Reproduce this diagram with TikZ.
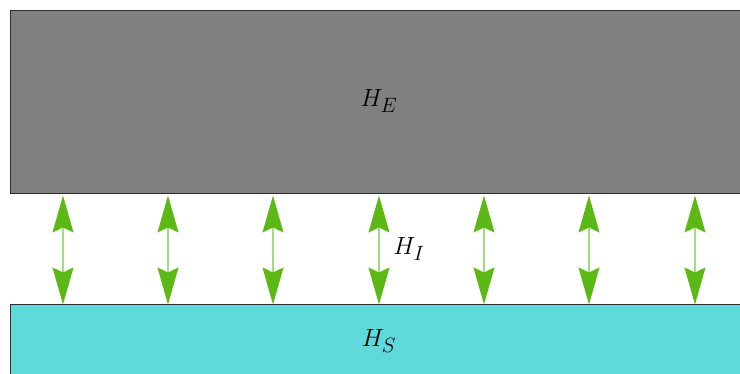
\documentclass[tikz,border=0pt]{standalone}
\usetikzlibrary{arrows.meta}
\definecolor{envgray}{HTML}{808080}
\definecolor{syscyan}{HTML}{5FD9D9}
\definecolor{headgreen}{HTML}{5CB814}
\definecolor{shaftgreen}{HTML}{A2DC7E}
\definecolor{edgegray}{HTML}{2E2E2E}
\tikzset{
  lbl/.style={font=\fontsize{29}{33}\selectfont, inner sep=0pt},
  couple/.style={shaftgreen, line width=1.3pt,
    {Stealth[length=37pt,width=21pt,inset=5pt,color=headgreen]}-{Stealth[length=37pt,width=21pt,inset=5pt,color=headgreen]}},
  edge/.style={edgegray, line width=1pt}
}
\begin{document}
\begin{tikzpicture}[x=1pt,y=-1pt]
\useasboundingbox (0,0) rectangle (740,374);
\fill[envgray] (10,11) rectangle (740,194);
\draw[edge] (741,11) -- (10,11) -- (10,194) -- (741,194);
\fill[syscyan] (10,305) rectangle (740,375);
\draw[edge] (741,305) -- (10,305) -- (10,375);
\node[lbl] (HE) at (379,101) {$H_E$};
\node[lbl] (HS) at (379,341) {$H_S$};
\node[lbl] (HI) at (409,249) {$H_I$};
\foreach \i/\x in {1/63,2/168,3/273,4/379,5/484,6/589,7/695}{
  \coordinate (t\i) at (\x,195.5);
  \coordinate (b\i) at (\x,304.5);
  \draw[couple] (t\i) -- (b\i);
}
\end{tikzpicture}
\end{document}
